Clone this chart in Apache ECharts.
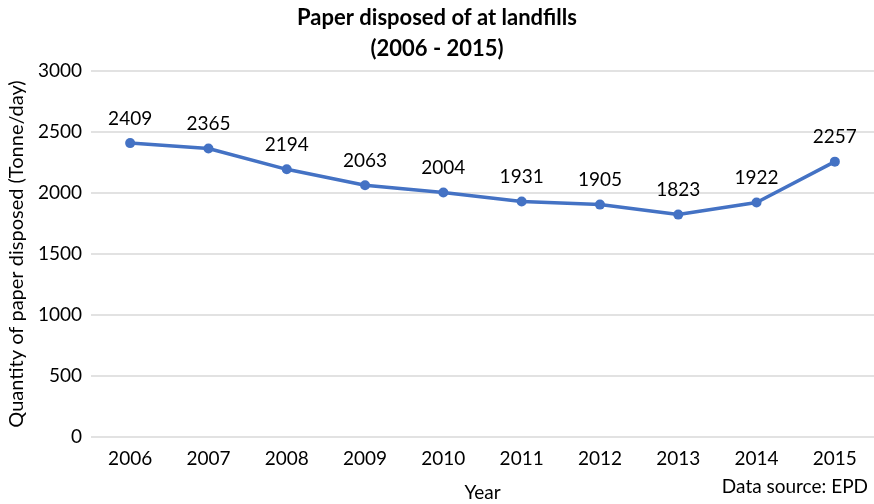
<!DOCTYPE html>
<html>
<head>
<meta charset="utf-8">
<script src="https://cdn.jsdelivr.net/npm/echarts@6/dist/echarts.min.js"></script>
<style>
html, body { margin: 0; padding: 0; background: #fff; }
#main { width: 874px; height: 504px; }
</style>
</head>
<body>
<div id="main"></div>
<script>
// data
var years = ['2006', '2007', '2008', '2009', '2010', '2011', '2012', '2013', '2014', '2015'];
var paperDisposed = [2409, 2365, 2194, 2063, 2004, 1931, 1905, 1823, 1922, 2257];

var font = 'Lato, "Open Sans", sans-serif';
var chart = echarts.init(document.getElementById('main'));

var option = {
    backgroundColor: '#fff',
    textStyle: { fontFamily: font },
    title: {
        text: 'Paper disposed of at landfills\n(2006 - 2015)',
        left: 'center',
        top: -3,
        textStyle: { fontFamily: font, fontSize: 22, fontWeight: 'bold', color: '#000', lineHeight: 31 }
    },
    grid: { left: 91, right: 0, top: 71, bottom: 67, containLabel: false, outerBoundsMode: 'none' },
    xAxis: {
        type: 'category',
        data: years,
        name: 'Year',
        nameLocation: 'middle',
        nameGap: 46,
        nameTextStyle: { fontFamily: font, fontSize: 19, color: '#000' },
        axisLine: { show: false },
        axisTick: { show: false },
        axisLabel: { fontFamily: font, fontSize: 19, color: '#000', margin: 12 }
    },
    yAxis: {
        type: 'value',
        min: 0,
        max: 3000,
        interval: 500,
        name: 'Quantity of paper disposed (Tonne/day)',
        nameLocation: 'middle',
        nameGap: 63,
        nameTextStyle: { fontFamily: font, fontSize: 20, color: '#000' },
        axisLine: { show: false },
        axisTick: { show: false },
        axisLabel: {
            fontFamily: font, fontSize: 19, color: '#000', margin: 9,
            formatter: function (v) { return String(v); }
        },
        splitLine: { lineStyle: { color: '#d9d9d9', width: 1.5 } }
    },
    graphic: [{
        type: 'text',
        right: 6,
        top: 477,
        style: { text: 'Data source: EPD', fontFamily: font, fontSize: 19, fill: '#000' }
    }],
    series: [{
        type: 'line',
        data: paperDisposed,
        symbol: 'circle',
        symbolSize: 10,
        lineStyle: { color: '#4472c4', width: 3.5 },
        itemStyle: { color: '#4472c4' },
        label: {
            show: true,
            position: 'top',
            distance: 10,
            fontFamily: font,
            fontSize: 19,
            color: '#000'
        }
    }]
};

chart.setOption(option);
</script>
</body>
</html>
